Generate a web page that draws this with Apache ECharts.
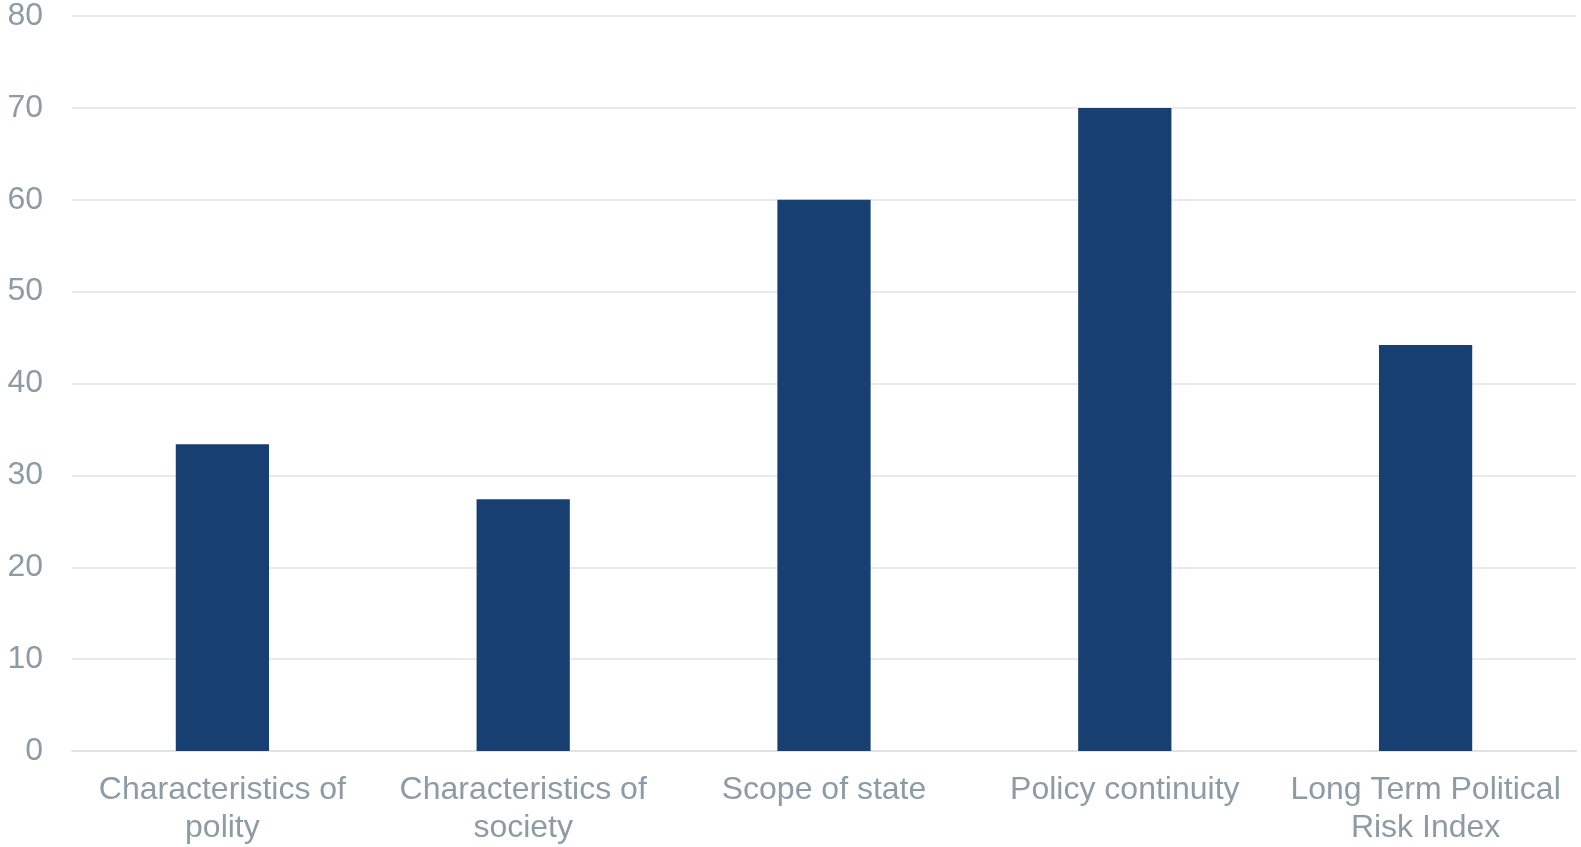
<!DOCTYPE html>
<html>
<head>
<meta charset="utf-8">
<script src="https://cdn.jsdelivr.net/npm/echarts@6/dist/echarts.min.js"></script>
<style>
  html, body { margin: 0; padding: 0; background: #fff; }
  #chart { width: 1581px; height: 847px; }
</style>
</head>
<body>
<div id="chart"></div>
<script>
var categories = [
  'Characteristics of\npolity',
  'Characteristics of\nsociety',
  'Scope of state',
  'Policy continuity',
  'Long Term Political\nRisk Index'
];
var scores = [33.4, 27.4, 60, 70, 44.2];

var textColor = '#8d9ba4';
var chart = echarts.init(document.getElementById('chart'));

var option = {
  animation: false,
  grid: { left: 72, right: 5, top: 15.5, bottom: 93.5, containLabel: false },
  xAxis: {
    type: 'category',
    data: categories,
    axisLine: { show: true, lineStyle: { color: '#dde4e7', width: 2 } },
    axisTick: { show: false },
    axisLabel: {
      color: textColor,
      fontFamily: 'Liberation Sans, Arial, sans-serif',
      fontSize: 32,
      lineHeight: 38,
      margin: 20,
      interval: 0
    }
  },
  yAxis: {
    type: 'value',
    min: 0,
    max: 80,
    interval: 10,
    axisLine: { show: false },
    axisTick: { show: false },
    axisLabel: {
      color: textColor,
      fontFamily: 'Liberation Sans, Arial, sans-serif',
      fontSize: 32,
      margin: 29
    },
    splitLine: { lineStyle: { color: '#e8ebed', width: 2 } }
  },
  series: [{
    type: 'bar',
    data: scores,
    barWidth: '31%',
    itemStyle: { color: '#183f72' }
  }]
};

chart.setOption(option);
</script>
</body>
</html>
